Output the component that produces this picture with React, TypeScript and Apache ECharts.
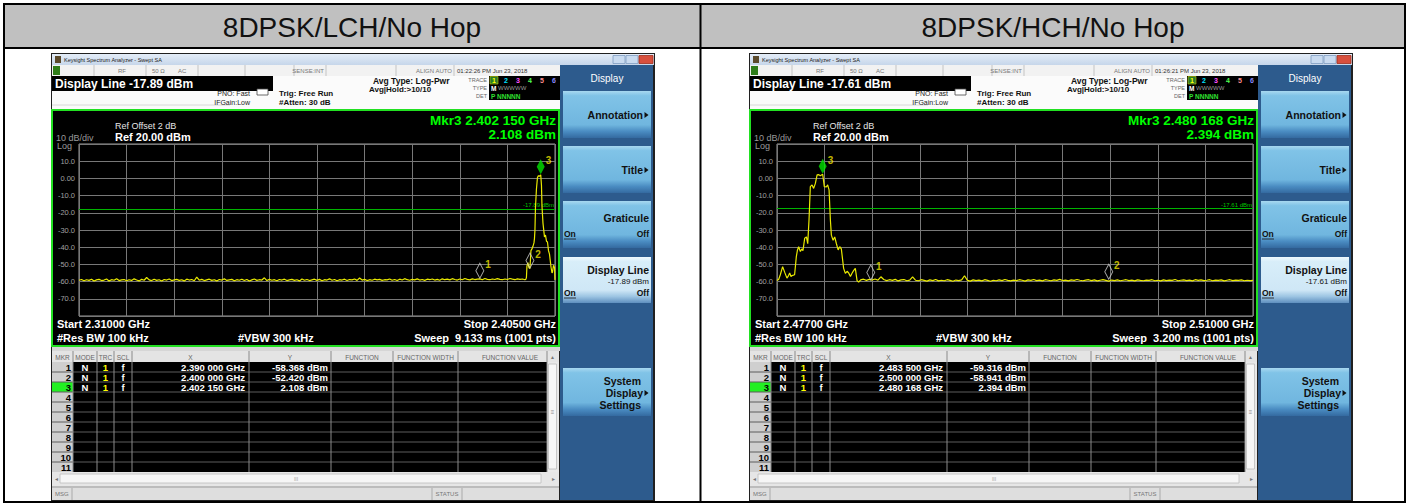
import React, { useEffect, useRef } from 'react';
import * as echarts from 'echarts';

const FONT = '"Liberation Sans", Arial, Helvetica, sans-serif';

// ---------------- data ----------------
const panelTitles = ['8DPSK/LCH/No Hop', '8DPSK/HCH/No Hop'];
const startGHz = [2.31, 2.477];
const stopGHz = [2.405, 2.51];
const sweepText = ['9.133 ms (1001 pts)', '3.200 ms (1001 pts)'];
const clockText = ['01:22:26 PM Jun 23, 2018', '01:26:21 PM Jun 23, 2018'];
const displayLineDbm = [-17.89, -17.61];
const yTickValues = [20, 10, 0, -10, -20, -30, -40, -50, -60, -70, -80];
const yTickLabels = ['', '10.0', '0.00', '-10.0', '-20.0', '-30.0', '-40.0', '-50.0', '-60.0', '-70.0', ''];

const lchMarkerGHz = [2.39, 2.4, 2.40215];
const lchMarkerDbm = [-58.368, -52.42, 2.108];
const hchMarkerGHz = [2.4835, 2.5, 2.480168];
const hchMarkerDbm = [-59.316, -58.941, 2.394];

const lchNoiseStartGHz = 2.31;
const lchNoiseStepMHz = 0.5;
const lchNoiseDbm = [
  -59.2, -58.8, -59.5, -58.9, -59.3, -58.6, -59.7, -59.0, -58.7, -59.4, -59.1, -58.5, -59.6, -58.9, -59.2, -58.3, -59.4, -59.0, -58.8, -59.5,
  -58.9, -59.3, -58.4, -59.1, -59.6, -58.7, -59.2, -57.6, -59.0, -59.4, -58.6, -59.3, -58.9, -59.7, -58.8, -59.1, -58.5, -59.4, -59.0, -58.7,
  -59.3, -58.9, -59.6, -58.6, -59.1, -58.8, -59.5, -57.4, -59.2, -58.7, -59.4, -59.0, -58.6, -59.3, -58.9, -59.6, -58.8, -59.1, -58.4, -59.3,
  -59.0, -58.7, -59.5, -58.9, -59.2, -58.6, -59.4, -58.8, -59.7, -59.0, -58.5, -59.3, -58.9, -59.1, -57.8, -59.4, -58.7, -59.2, -58.9, -59.5,
  -58.8, -59.1, -58.6, -59.4, -59.0, -58.7, -59.3, -58.9, -59.6, -58.5, -59.2, -58.8, -59.4, -59.0, -58.6, -59.3, -58.7, -59.5, -58.9, -59.1,
  -58.4, -59.2, -58.8, -59.5, -58.9, -59.1, -58.6, -59.4, -58.8, -59.0, -58.5, -59.3, -57.9, -59.1, -58.7, -59.4, -58.9, -59.2, -58.6, -59.0,
  -58.7, -59.3, -58.9, -59.0, -58.5, -59.2, -58.8, -59.4, -58.6, -59.1, -58.3, -58.9, -59.2, -58.7, -59.0, -58.4, -59.1, -58.8, -59.3, -58.6,
  -58.9, -58.5, -59.1, -58.7, -59.2, -58.4, -58.9, -58.6, -59.0, -58.3, -58.8, -59.1, -58.5, -58.9, -58.2, -58.7, -59.0, -58.4, -58.8, -58.6,
  -58.4, -58.9, -58.2, -58.7, -58.9, -58.5, -58.8, -58.3, -58.7, -58.9, -58.5, -58.8, -58.2, -58.6, -58.9, -58.4, -58.7, -58.5, -58.9,
];
const lchSignalGHz = [2.3992, 2.3993, 2.3994, 2.3996, 2.3998, 2.4, 2.4002, 2.4004, 2.4006, 2.4008, 2.4009, 2.401, 2.4011, 2.4013, 2.4015, 2.4017, 2.4019, 2.40215, 2.4023, 2.4024, 2.4026, 2.4029, 2.4031, 2.4033, 2.4035, 2.4037, 2.4039, 2.4041, 2.4042, 2.4044, 2.4045, 2.4047, 2.4049, 2.405];
const lchSignalDbm = [-58.6, -57.5, -51.0, -49.0, -52.0, -52.42, -42.0, -41.0, -39.5, -37.5, -35.0, -30.0, -17.0, -6.0, 0.5, 1.6, 1.2, 2.108, -4.0, -16.0, -26.0, -34.0, -33.0, -36.5, -37.0, -42.0, -44.0, -49.0, -51.5, -55.0, -54.5, -50.5, -52.0, -59.0];

const hchSignalGHz = [2.477, 2.47712, 2.47723, 2.47739, 2.47753, 2.47769, 2.4778, 2.47788, 2.47797, 2.47804, 2.47822, 2.47834, 2.47842, 2.4785, 2.47862, 2.47872, 2.4788, 2.47892, 2.47904, 2.47913, 2.47922, 2.47931, 2.47943, 2.47954, 2.47966, 2.47978, 2.4799, 2.48, 2.480168, 2.48028, 2.48042, 2.48051, 2.48061, 2.4807, 2.48077, 2.48089, 2.481, 2.48112, 2.48124, 2.48135, 2.48146, 2.48162, 2.48174, 2.48186, 2.48197, 2.48209, 2.48221, 2.48232, 2.48243, 2.48255, 2.48266];
const hchSignalDbm = [-59.4, -58.6, -56.0, -51.3, -54.5, -58.0, -56.5, -55.0, -57.0, -56.5, -56.0, -45.5, -41.6, -39.7, -42.5, -41.0, -42.0, -34.8, -34.0, -38.0, -24.0, -4.8, -3.8, -5.8, -2.9, 2.0, 2.2, 1.6, 2.394, -4.8, -5.0, -3.8, -6.7, -24.0, -33.0, -36.0, -34.0, -38.0, -41.6, -39.7, -41.0, -52.3, -55.2, -54.0, -55.0, -57.0, -55.0, -53.5, -52.3, -59.4, -60.3];
const hchNoiseStartGHz = 2.4828;
const hchNoiseStepMHz = 0.2;
const hchNoiseDbm = [
  -59.0, -58.6, -59.3, -58.7, -59.1, -58.5, -59.2, -57.2, -58.8, -59.4, -58.9, -59.3, -58.7, -59.6, -59.0, -58.8, -59.5, -59.1, -57.3, -59.2,
  -59.5, -58.9, -59.3, -59.7, -59.0, -59.4, -58.8, -59.6, -59.2, -59.5, -58.9, -59.3, -59.8, -59.1, -59.4, -59.0, -56.6, -59.3, -59.7, -59.0,
  -59.4, -59.1, -59.6, -58.9, -59.3, -59.8, -59.2, -59.5, -59.0, -59.4, -58.8, -59.3, -59.6, -59.1, -59.4, -58.9, -59.2, -59.7, -59.0, -59.3,
  -58.8, -59.4, -59.1, -59.6, -58.9, -59.2, -59.5, -59.0, -59.3, -58.7, -59.4, -59.1, -59.6, -59.0, -59.3, -58.8, -59.2, -59.5, -59.1, -58.9,
  -59.4, -59.0, -59.6, -59.2, -58.9, -59.3, -59.7, -59.1, -59.4, -59.0, -59.5, -59.2, -58.9, -59.4, -59.1, -59.6, -59.0, -59.3, -59.5, -59.1,
  -59.3, -58.9, -59.5, -59.2, -59.6, -59.0, -59.4, -59.1, -59.3, -58.8, -59.5, -59.2, -59.0, -59.4, -59.1, -59.6, -58.9, -59.3, -59.0, -59.4,
  -59.2, -58.9, -59.5, -59.1, -59.3, -59.0, -59.6, -59.2, -58.9, -59.4, -59.1, -59.3, -59.0, -59.5, -59.2, -59.4, -59.3,
];

const traceDigitColors = ['#ffff00', '#00e0ff', '#ff50ff', '#50ff50', '#ff9090', '#8a8aff'];

// ---------------- helpers ----------------
function buildTrace(noiseStart: number, stepMHz: number, noise: number[], sigF: number[], sigL: number[], start: number) {
  const pts: number[][] = [];
  noise.forEach((v, i) => pts.push([(noiseStart + (i * stepMHz) / 1000 - start) * 1e6, v]));
  sigF.forEach((f, i) => pts.push([(f - start) * 1e6, sigL[i]]));
  pts.sort((a, b) => a[0] - b[0]);
  return pts;
}
const fmtGHz = (f: number) => {
  const s = f.toFixed(6);
  return s.slice(0, 5) + ' ' + s.slice(5);
};

type Opt = { bold?: boolean; align?: string; z?: number; vAlign?: string };
function T(x: number, y: number, text: string, size: number, color: string, o: Opt = {}) {
  const align = o.align || 'left';
  const v = o.vAlign || 'middle';
  return {
    type: 'text', x, y, z: o.z ?? 20, silent: true,
    style: {
      text, fill: color, font: `${o.bold ? 'bold ' : ''}${size}px ${FONT}`,
      align, textAlign: align, verticalAlign: v, textVerticalAlign: v,
    },
  };
}
function R(x: number, y: number, w: number, h: number, fill: any, stroke?: string, lw?: number, z = 2) {
  return { type: 'rect', z, silent: true, shape: { x, y, width: w, height: h }, style: { fill, stroke: stroke || null, lineWidth: lw || 0 } };
}
function L(x1: number, y1: number, x2: number, y2: number, color: string, w = 1, z = 3) {
  return { type: 'line', z, silent: true, shape: { x1, y1, x2, y2 }, style: { stroke: color, lineWidth: w } };
}
function Tri(x: number, y: number, z = 20) {
  return { type: 'polygon', z, silent: true, shape: { points: [[x, y - 3], [x + 4, y], [x, y + 3]] }, style: { fill: '#111' } };
}
const vgrad = (stops: [number, string][]) =>
  new echarts.graphic.LinearGradient(0, 0, 0, 1, stops.map(([offset, color]) => ({ offset, color })));

function panelGraphics(p: number) {
  const dx = p * 698;
  const X = (x: number) => x + dx;
  const els: any[] = [];
  const mk = p === 0 ? { f: lchMarkerGHz, l: lchMarkerDbm } : { f: hchMarkerGHz, l: hchMarkerDbm };
  const dl = displayLineDbm[p];

  // window frame
  els.push(R(X(51), 53, 604, 448, '#202020', undefined, 0, 1));
  els.push(R(X(52), 54, 602, 11, vgrad([[0, '#e4edf8'], [1, '#c6d6ea']]), undefined, 0, 2));
  els.push(R(X(55), 56, 6, 7, '#5b4a2c', undefined, 0, 3));
  els.push(T(X(64), 59.5, 'Keysight Spectrum Analyzer - Swept SA', 5.5, '#1a1a1a'));
  els.push(R(X(613), 55.5, 12, 8, '#c9dbf0', '#7f9cc0', 0.8, 3));
  els.push(R(X(626), 55.5, 12, 8, '#c9dbf0', '#7f9cc0', 0.8, 3));
  els.push(R(X(639), 55.5, 14, 8, '#d8503e', '#a03020', 0.8, 3));

  // status row
  els.push(R(X(52), 65, 508, 11, '#f2f2f2', undefined, 0, 2));
  els.push(R(X(53), 66, 7, 9, '#2f7d1a', undefined, 0, 3));
  [94, 146, 198, 245, 294, 326, 396, 454].forEach((sx) => els.push(L(X(sx), 65, X(sx), 76, '#c4c4c4', 1, 3)));
  els.push(T(X(122), 71, 'RF', 6, '#777', { align: 'center' }));
  els.push(T(X(152), 71, '50 Ω', 6, '#777'));
  els.push(T(X(178), 71, 'AC', 6, '#777'));
  els.push(T(X(324), 71, 'SENSE:INT', 6, '#777', { align: 'right' }));
  els.push(T(X(452), 71, 'ALIGN AUTO', 6, '#777', { align: 'right' }));
  els.push(T(X(457), 71, clockText[p], 6, '#333'));

  // info area
  els.push(R(X(52), 76, 508, 34, '#fbfbfb', undefined, 0, 2));
  els.push(R(X(52), 76, 221, 15, '#000', undefined, 0, 3));
  els.push(T(X(55), 83.5, `Display Line ${dl.toFixed(2)} dBm`, 12, '#fff', { bold: true }));
  els.push(L(X(52), 105, X(230), 105, '#d8d8d8', 1, 3));
  els.push(T(X(250), 93, 'PNO: Fast', 7, '#222', { align: 'right' }));
  els.push(T(X(250), 102, 'IFGain:Low', 7, '#222', { align: 'right' }));
  els.push(R(X(257), 89, 11, 6, '#fff', '#444', 0.8, 3));
  els.push(T(X(279), 93, 'Trig: Free Run', 8, '#111', { bold: true }));
  els.push(T(X(279), 102, '#Atten: 30 dB', 8, '#111', { bold: true }));
  els.push(T(X(373), 81, 'Avg Type: Log-Pwr', 8.5, '#111', { bold: true }));
  els.push(T(X(369), 89, 'Avg|Hold:>10/10', 8, '#111', { bold: true }));
  els.push(T(X(487), 80, 'TRACE', 5.5, '#666', { align: 'right' }));
  els.push(T(X(487), 88, 'TYPE', 5.5, '#666', { align: 'right' }));
  els.push(T(X(487), 96, 'DET', 5.5, '#666', { align: 'right' }));
  els.push(R(X(489), 76, 71, 24, '#000', undefined, 0, 3));
  els.push(R(X(490), 76.5, 8, 7.5, '#2a7a2a', '#cccc00', 0.6, 4));
  traceDigitColors.forEach((c, k) => els.push(T(X(494 + k * 12), 80.3, String(k + 1), 7, c, { bold: true, align: 'center' })));
  els.push(T(X(491), 88, 'M', 6.5, '#fff', { bold: true }));
  els.push(T(X(498), 88, 'WWWWW', 6, '#9a9a9a'));
  els.push(T(X(491), 96, 'P NNNNN', 6.5, '#30e030', { bold: true }));

  // plot screen
  els.push(R(X(52), 110, 507, 236, '#000', '#22e022', 2, 2));
  els.push(T(X(556), 120, `Mkr3 ${fmtGHz(mk.f[2])} GHz`, 13.5, '#00ff00', { bold: true, align: 'right' }));
  els.push(T(X(556), 134, `${mk.l[2].toFixed(3)} dBm`, 13.5, '#00ff00', { bold: true, align: 'right' }));
  els.push(T(X(115), 126, 'Ref Offset 2 dB', 9, '#e6e6e6'));
  els.push(T(X(115), 137, 'Ref 20.00 dBm', 11, '#fff', { bold: true }));
  els.push(T(X(56), 138, '10 dB/div', 9, '#9a9a9a'));
  els.push(T(X(57), 145.5, 'Log', 9, '#9a9a9a'));
  els.push(T(X(57), 324, `Start ${startGHz[p].toFixed(5)} GHz`, 11, '#fff', { bold: true }));
  els.push(T(X(556), 324, `Stop ${stopGHz[p].toFixed(5)} GHz`, 11, '#fff', { bold: true, align: 'right' }));
  els.push(T(X(57), 338, '#Res BW 100 kHz', 11, '#fff', { bold: true }));
  els.push(T(X(238), 338, '#VBW 300 kHz', 11, '#fff', { bold: true }));
  els.push(T(X(556), 338, `Sweep  ${sweepText[p]}`, 11, '#fff', { bold: true, align: 'right' }));

  // gap
  els.push(R(X(52), 346, 508, 5, '#d6d6d6', undefined, 0, 1.5));

  // marker table
  els.push(R(X(52), 351, 507, 11, '#e4e4e4', undefined, 0, 2));
  const heads: [number, string][] = [[62.5, 'MKR'], [85, 'MODE'], [105.5, 'TRC'], [123, 'SCL'], [190.5, 'X'], [290, 'Y'], [362, 'FUNCTION'], [425.5, 'FUNCTION WIDTH'], [510, 'FUNCTION VALUE']];
  heads.forEach(([hx, t]) => els.push(T(X(hx), 357, t, 6.5, '#666', { align: 'center' })));
  els.push(T(X(552.5), 357, '▲', 5, '#777', { align: 'center' }));
  els.push(R(X(52), 362, 495, 110, '#000', undefined, 0, 2));
  els.push(R(X(52), 362, 21, 110, '#cfcfcf', undefined, 0, 3));
  els.push(R(X(52), 382, 21, 10, '#22f022', undefined, 0, 3.5));
  for (let r = 1; r <= 10; r++) els.push(L(X(52), 362 + 10 * r, X(547), 362 + 10 * r, '#5c5c5c', 1, 4));
  [73, 97, 114, 132, 249, 331, 393, 458, 547].forEach((cx) => els.push(L(X(cx), 351, X(cx), 472, '#8a8a8a', 1, 4)));
  for (let r = 1; r <= 11; r++) els.push(T(X(71), 367 + 10 * (r - 1), String(r), 9.5, '#000', { bold: true, align: 'right' }));
  mk.f.forEach((f, i) => {
    const y = 367 + 10 * i;
    els.push(T(X(85), y, 'N', 9.5, '#fff', { bold: true, align: 'center' }));
    els.push(T(X(105.5), y, '1', 9.5, '#ffff00', { bold: true, align: 'center' }));
    els.push(T(X(123), y, 'f', 9.5, '#fff', { bold: true, align: 'center' }));
    els.push(T(X(245), y, `${fmtGHz(f)} GHz`, 9.5, '#fff', { bold: true, align: 'right' }));
    els.push(T(X(328), y, `${mk.l[i].toFixed(3)} dBm`, 9.5, '#fff', { bold: true, align: 'right' }));
  });
  els.push(R(X(547), 362, 12, 110, '#e8e8e8', undefined, 0, 3));
  els.push(R(X(548.5), 364, 8, 105, '#f6f6f6', '#bdbdbd', 0.8, 4));
  els.push(T(X(552.5), 412, '≡', 6, '#888', { align: 'center' }));
  els.push(R(X(52), 472, 507, 14, '#e6e6e6', undefined, 0, 3));
  els.push(R(X(60), 474, 481, 9, '#f6f6f6', '#bdbdbd', 0.8, 4));
  els.push(T(X(55), 478.5, '◂', 6, '#777'));
  els.push(T(X(552), 478.5, '▸', 6, '#777'));
  els.push(T(X(296), 478.5, 'III', 5, '#999', { align: 'center' }));
  els.push(R(X(52), 486, 507, 2, '#bcbcbc', undefined, 0, 3));
  els.push(R(X(52), 488, 507, 12, '#dedede', undefined, 0, 3));
  els.push(L(X(72), 488, X(72), 500, '#aaa', 1, 4));
  els.push(L(X(432), 488, X(432), 500, '#aaa', 1, 4));
  els.push(L(X(462), 488, X(462), 500, '#aaa', 1, 4));
  els.push(T(X(55), 494, 'MSG', 6, '#777'));
  els.push(T(X(447), 494, 'STATUS', 6, '#777', { align: 'center' }));

  // softkey panel
  els.push(R(X(560), 65, 93, 435, '#2d5b8d', undefined, 0, 2));
  els.push(T(X(607), 78, 'Display', 10, '#fff', { align: 'center' }));
  const btn = (y: number, h: number, sel: boolean) =>
    els.push(R(X(563), y, 88, h, sel
      ? vgrad([[0, '#eef8fd'], [0.1, '#d8eef9'], [0.72, '#cfe7f6'], [0.86, '#9cc4e2'], [1, '#5f8fbf']])
      : vgrad([[0, '#a8d8f0'], [0.1, '#80c3e7'], [0.72, '#70b6df'], [0.86, '#4a8cc2'], [1, '#346aa0']]), undefined, 0, 3));
  btn(91, 47, false);
  btn(146, 47, false);
  btn(201, 47, false);
  btn(257, 46, true);
  btn(368, 48, false);
  els.push(T(X(643), 115, 'Annotation', 10.5, '#111', { bold: true, align: 'right' }));
  els.push(Tri(X(644.5), 115));
  els.push(T(X(643), 170, 'Title', 10.5, '#111', { bold: true, align: 'right' }));
  els.push(Tri(X(644.5), 170));
  els.push(T(X(649), 218, 'Graticule', 10.5, '#111', { bold: true, align: 'right' }));
  els.push(T(X(564), 234, 'On', 8.5, '#111', { bold: true }));
  els.push(L(X(564), 239, X(576), 239, '#111', 0.8, 20));
  els.push(T(X(649), 234, 'Off', 8.5, '#111', { bold: true, align: 'right' }));
  els.push(T(X(649), 270, 'Display Line', 10.5, '#111', { bold: true, align: 'right' }));
  els.push(T(X(649), 281.5, `${dl.toFixed(2)} dBm`, 8, '#111', { align: 'right' }));
  els.push(T(X(564), 293, 'On', 8.5, '#111', { bold: true }));
  els.push(L(X(564), 298, X(576), 298, '#111', 0.8, 20));
  els.push(T(X(649), 293, 'Off', 8.5, '#111', { bold: true, align: 'right' }));
  els.push(T(X(641), 381, 'System', 10.5, '#111', { bold: true, align: 'right' }));
  els.push(T(X(643), 393, 'Display', 10.5, '#111', { bold: true, align: 'right' }));
  els.push(Tri(X(644.5), 393));
  els.push(T(X(641), 405, 'Settings', 10.5, '#111', { bold: true, align: 'right' }));
  return els;
}

export default function App() {
  const ref = useRef<HTMLDivElement>(null);
  useEffect(() => {
    if (!ref.current) return;
    const chart = echarts.init(ref.current, undefined, { renderer: 'svg' });
    const traces = [
      buildTrace(lchNoiseStartGHz, lchNoiseStepMHz, lchNoiseDbm, lchSignalGHz, lchSignalDbm, startGHz[0]),
      buildTrace(hchNoiseStartGHz, hchNoiseStepMHz, hchNoiseDbm, hchSignalGHz, hchSignalDbm, startGHz[1]),
    ];
    const markers = [
      { f: lchMarkerGHz, l: lchMarkerDbm },
      { f: hchMarkerGHz, l: hchMarkerDbm },
    ];
    const spanKHz = [0, 1].map((i) => Math.round((stopGHz[i] - startGHz[i]) * 1e6));
    const gridLeft = [79, 777];

    const graphics: any[] = [];
    // table
    graphics.push(R(4, 4, 1401, 44, '#c0c0c0', undefined, 0, 0));
    graphics.push(R(4, 48, 1401, 454, '#ffffff', undefined, 0, 0));
    panelTitles.forEach((t, i) => graphics.push(T(i === 0 ? 352 : 1053, 27, t, 28, '#111', { align: 'center' })));
    graphics.push(R(4, 4, 1401, 498, 'none', '#000', 2, 30));
    graphics.push(L(4, 48, 1405, 48, '#000', 2, 30));
    graphics.push(L(700.5, 4, 700.5, 502, '#000', 2, 30));
    graphics.push(...panelGraphics(0), ...panelGraphics(1));

    const series: any[] = [];
    [0, 1].forEach((i) => {
      series.push({
        type: 'line', xAxisIndex: i, yAxisIndex: i, data: traces[i], showSymbol: false, z: 6,
        lineStyle: { color: '#eaea00', width: 1.2 }, silent: true,
        markLine: {
          silent: true, symbol: ['none', 'none'], animation: false,
          lineStyle: { color: '#00b400', width: 1, type: 'solid' },
          label: { show: true, position: 'insideEndTop', formatter: `${displayLineDbm[i].toFixed(2)} dBm`, color: '#00c000', fontSize: 6, distance: 1, fontFamily: FONT },
          data: [{ yAxis: displayLineDbm[i] }],
        },
      });
      series.push({
        type: 'scatter', xAxisIndex: i, yAxisIndex: i, z: 7, silent: true,
        symbol: 'diamond', symbolSize: [8, 15], symbolOffset: [0, -8],
        label: { show: true, formatter: '{b}', position: 'right', distance: 1, offset: [0, -6], color: '#f2e600', fontWeight: 'bold', fontSize: 10, fontFamily: FONT },
        data: markers[i].f.map((f, k) => ({
          name: String(k + 1),
          value: [(f - startGHz[i]) * 1e6, markers[i].l[k]],
          itemStyle: k === 2 ? { color: '#00e400', borderWidth: 0 } : { color: 'rgba(0,0,0,0)', borderColor: '#cfcfcf', borderWidth: 1 },
        })),
      });
    });

    chart.setOption({
      animation: false,
      backgroundColor: '#ffffff',
      grid: [0, 1].map((i) => ({ left: gridLeft[i], top: 144, width: 476, height: 172, show: true, backgroundColor: '#000', borderColor: '#9a9a9a', borderWidth: 1, z: 3 })),
      xAxis: [0, 1].map((i) => ({
        type: 'value', gridIndex: i, min: 0, max: spanKHz[i], interval: spanKHz[i] / 10, z: 4,
        axisLine: { show: false }, axisTick: { show: false }, axisLabel: { show: false },
        splitLine: { show: true, lineStyle: { color: '#787878', width: 1 } },
      })),
      yAxis: [0, 1].map((i) => ({
        type: 'value', gridIndex: i, min: -80, max: 20, interval: 10, z: 4,
        axisLine: { show: false }, axisTick: { show: false },
        axisLabel: {
          color: '#a0a0a0', fontSize: 7.5, fontFamily: FONT, margin: 4,
          formatter: (v: number) => yTickLabels[yTickValues.indexOf(Math.round(v))] ?? '',
        },
        splitLine: { show: true, lineStyle: { color: '#787878', width: 1 } },
      })),
      series,
      graphic: { elements: graphics },
    });
    return () => chart.dispose();
  }, []);
  return <div ref={ref} style={{ position: 'absolute', left: 0, top: 0, width: 1411, height: 504 }} />;
}
